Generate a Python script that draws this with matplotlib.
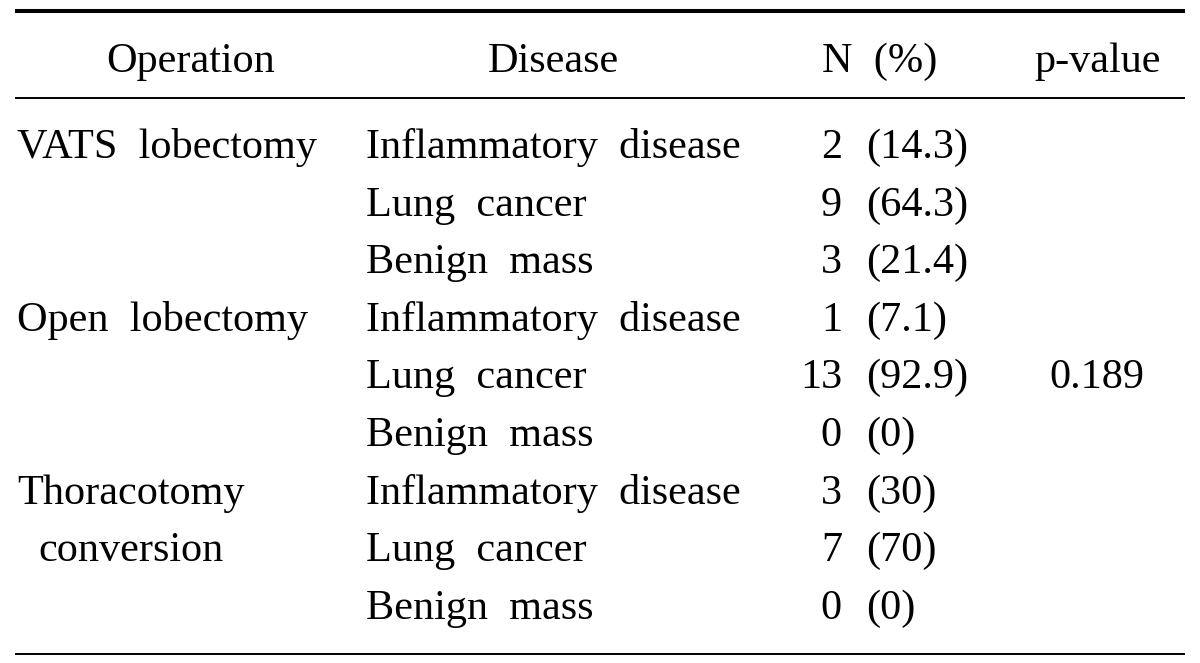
import matplotlib.pyplot as plt

# table contents
headers = ['Operation', 'Disease', 'N  (%)', 'p-value']
operations = ['VATS  lobectomy', 'Open  lobectomy', 'Thoracotomy\nconversion']
diseases = ['Inflammatory  disease', 'Lung  cancer', 'Benign  mass']
counts = [2, 9, 3, 1, 13, 0, 3, 7, 0]
percents = ['(14.3)', '(64.3)', '(21.4)', '(7.1)', '(92.9)', '(0)', '(30)', '(70)', '(0)']
p_value = '0.189'

plt.rcParams['font.family'] = ['Liberation Serif', 'DejaVu Serif']
fs = 30.4

fig = plt.figure(figsize=(12, 6.63), dpi=100)
ax = fig.add_axes([0, 0, 1, 1])
ax.set_xlim(0, 1200)
ax.set_ylim(663, 0)
ax.axis('off')

# rules
ax.plot([15, 1185], [11, 11], color='black', lw=2.9, solid_capstyle='butt')
ax.plot([15, 1185], [98, 98], color='black', lw=1.4, solid_capstyle='butt')
ax.plot([15, 1185], [654, 654], color='black', lw=1.4, solid_capstyle='butt')

# header
hx = [191, 553, 880, 1098]
for x, h in zip(hx, headers):
    ax.text(x, 72, h, fontsize=fs, ha='center', va='baseline')

y0, dy = 158, 57.6
for i, (n, pc) in enumerate(zip(counts, percents)):
    y = y0 + i * dy
    ax.text(366, y, diseases[i % 3], fontsize=fs, ha='left', va='baseline')
    ax.text(842, y, str(n), fontsize=fs, ha='right', va='baseline')
    ax.text(866, y, pc, fontsize=fs, ha='left', va='baseline')

for j, op in enumerate(operations):
    y = y0 + 3 * j * dy
    if '\n' in op:
        for k, line in enumerate(op.split('\n')):
            ax.text(131, y + k * dy, line, fontsize=fs, ha='center', va='baseline')
    else:
        ax.text(17, y, op, fontsize=fs, ha='left', va='baseline')

ax.text(1097, y0 + 4 * dy, p_value, fontsize=fs, ha='center', va='baseline')

fig.savefig('out.png', dpi=100)
